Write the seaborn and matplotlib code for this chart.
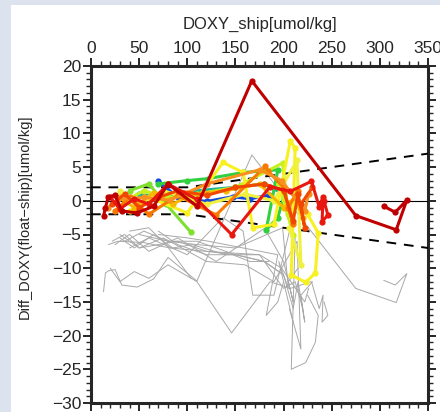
import numpy as np
import pandas as pd
import matplotlib
matplotlib.use("Agg")
import matplotlib.pyplot as plt
from matplotlib.patches import Rectangle
from matplotlib.ticker import MultipleLocator
import seaborn as sns

sns.set_style("ticks")
plt.rcParams['font.family'] = ['Liberation Sans', 'DejaVu Sans']

# ---- data: per float, ship DOXY (x), corrected diff (yc) and raw diff (yg) ----
float_names = ["blue", "teal", "green", "lightgreen", "yellowgreen", "yellow",
               "yellow2", "gold", "orange", "orange2", "redorange", "red", "darkred"]
float_colors = ["#1048e0", "#20b0a0", "#30d040", "#80e030", "#c8f020", "#f8f020",
                "#f0f040", "#f8b800", "#f87800", "#f89020", "#f04800", "#e81810", "#c00000"]

x_blue = [70, 90, 120, 147, 165, 185]
yc_blue = [2.9, 0.5, -0.1, 0.6, 0.3, 0.8]
yg_blue = [-4.5, -6.5, -8.0, -8.0, -9.0, -9.0]

x_teal = [50, 80, 110, 150, 180, 200]
yc_teal = [1.0, 0.5, 1.5, 2.0, 2.5, 1.0]
yg_teal = [-5.0, -6.0, -6.0, -8.0, -9.0, -11.0]

x_green = [70, 100, 122, 158, 194, 182, 194, 200]
yc_green = [2.5, 3.0, 3.3, 4.2, 4.6, -4.3, -2.5, 0.5]
yg_green = [-5.0, -5.5, -6.0, -7.0, -8.0, -17.0, -15.0, -12.0]

x_lightgreen = [40, 60, 78, 104]
yc_lightgreen = [1.5, 2.5, -0.5, -4.7]
yg_lightgreen = [-4.5, -4.0, -6.5, -11.5]

x_yellowgreen = [35, 55, 80, 110, 150, 199, 205, 195, 210]
yc_yellowgreen = [0.0, 1.5, 0.5, 1.0, 2.0, 5.6, -2.0, 2.5, -5.0]
yg_yellowgreen = [-6.0, -4.5, -6.0, -6.5, -7.0, -4.0, -13.0, -9.0, -18.0]

x_yellow = [40, 60, 100, 137, 158, 168, 190, 207, 212, 208, 223, 233, 236, 225]
yc_yellow = [-1.5, 0.5, -1.8, 5.7, 4.2, -4.0, -3.5, 8.9, 7.8, -11.0, -12.1, -10.7, -4.8, -2.0]
yg_yellow = [-7.0, -5.5, -8.0, -2.5, -4.5, -14.0, -14.0, -4.0, -5.5, -25.0, -24.0, -21.0, -17.0, -14.0]

x_yellow2 = [30, 50, 75, 120, 160, 190, 214, 218, 206]
yc_yellow2 = [1.5, -0.5, 1.5, -0.5, 1.0, 0.0, 6.0, -9.5, -4.0]
yg_yellow2 = [-5.0, -7.0, -5.5, -9.0, -9.5, -12.0, -6.0, -22.0, -16.0]

x_gold = [30, 45, 65, 85, 105, 140, 175, 200, 212, 220]
yc_gold = [0.5, -1.0, 1.2, -0.5, 1.0, 1.5, 2.5, -1.0, 0.5, -2.5]
yg_gold = [-5.5, -7.0, -5.0, -7.0, -6.5, -8.0, -8.0, -13.0, -12.0, -16.0]

x_orange = [25, 40, 60, 90, 130, 181, 184, 200, 210, 205, 215]
yc_orange = [-1.5, 0.5, -2.0, 0.8, -2.1, 5.1, 4.4, 2.0, -3.5, -1.0, 1.5]
yg_orange = [-6.5, -5.0, -7.5, -5.5, -9.0, -4.0, -5.0, -9.0, -15.0, -12.0, -10.0]

x_orange2 = [18, 28, 55, 82, 120, 175, 198, 222, 226]
yc_orange2 = [-1.0, 0.2, 0.5, 0.1, 2.5, 4.6, 3.0, -1.5, 1.0]
yg_orange2 = [-6.5, -6.0, -6.2, -7.0, -7.5, -8.0, -10.0, -15.0, -13.0]

x_redorange = [22, 35, 50, 70, 90, 120, 150, 180, 200, 210, 215, 222, 218, 230]
yc_redorange = [-0.5, 1.0, -1.0, 0.5, 1.5, 0.8, 2.0, 2.5, 1.5, -3.0, 1.0, -4.0, -0.5, 2.0]
yg_redorange = [-6.0, -5.0, -7.0, -6.5, -6.0, -7.5, -8.0, -9.0, -11.0, -16.0, -12.0, -18.0, -14.0, -12.0]

x_red = [20, 30, 45, 60, 80, 110, 146, 186, 207, 229, 237, 241, 240, 246, 242]
yc_red = [0.5, -1.2, 0.3, -0.5, 2.5, 0.2, -5.0, 2.1, 1.4, 2.9, -0.9, 0.6, -3.1, -2.1, 0.0]
yg_red = [-10.0, -12.0, -10.5, -11.5, -9.5, -12.0, -19.6, -12.0, -13.0, -12.0, -16.0, -14.0, -18.0, -17.0, -15.0]

x_darkred = [13, 15, 18, 25, 32, 48, 65, 80, 110, 167, 275, 317, 328, 316, 304]
yc_darkred = [-2.3, -1.0, 0.6, 0.8, -1.5, -1.8, -0.8, 2.5, -0.8, 17.8, -2.2, -4.3, 0.1, -1.7, -0.8]
yg_darkred = [-13.5, -10.7, -10.4, -10.2, -12.5, -12.8, -11.6, -8.4, -11.9, 6.8, -13.0, -15.1, -10.8, -12.5, -11.8]

# reference envelope (dashed) lines
env_x = [0, 100, 350]
env_upper = [2, 2, 7]
env_lower = [-2, -2, -7]

x_ticks = [0, 50, 100, 150, 200, 250, 300, 350]
y_ticks = [20, 15, 10, 5, 0, -5, -10, -15, -20, -25, -30]

series = {
    "blue": (x_blue, yc_blue, yg_blue),
    "teal": (x_teal, yc_teal, yg_teal),
    "green": (x_green, yc_green, yg_green),
    "lightgreen": (x_lightgreen, yc_lightgreen, yg_lightgreen),
    "yellowgreen": (x_yellowgreen, yc_yellowgreen, yg_yellowgreen),
    "yellow": (x_yellow, yc_yellow, yg_yellow),
    "yellow2": (x_yellow2, yc_yellow2, yg_yellow2),
    "gold": (x_gold, yc_gold, yg_gold),
    "orange": (x_orange, yc_orange, yg_orange),
    "orange2": (x_orange2, yc_orange2, yg_orange2),
    "redorange": (x_redorange, yc_redorange, yg_redorange),
    "red": (x_red, yc_red, yg_red),
    "darkred": (x_darkred, yc_darkred, yg_darkred),
}

rows = []
for name in float_names:
    xs, ycs, ygs = series[name]
    for i, (a, b, c) in enumerate(zip(xs, ycs, ygs)):
        rows.append(dict(float=name, order=i, x=a, yc=b, yg=c))
df = pd.DataFrame(rows)

# ---- figure ----
fig = plt.figure(figsize=(4.4, 4.12), dpi=100, facecolor="#dde3ee")
fig.patches.append(Rectangle((11 / 440, 0), 1 - 11 / 440, 1 - 5 / 412,
                             transform=fig.transFigure, facecolor="white",
                             edgecolor="none", zorder=-10))
ax = fig.add_axes([91 / 440, 1 - 403 / 412, (428 - 91) / 440, (403 - 66) / 412])
ax.set_zorder(5)
ax.set_facecolor("white")

sns.lineplot(data=df, x="x", y="yg", units="float", estimator=None, sort=False,
             color="#a8a8a8", lw=0.7, ax=ax, legend=False, zorder=2)

ax.axhline(0, color="black", lw=0.8, zorder=3)
ax.plot(env_x, env_upper, color="black", lw=1.4, dashes=(5, 4), zorder=3)
ax.plot(env_x, env_lower, color="black", lw=1.4, dashes=(5, 4), zorder=3)

sns.lineplot(data=df, x="x", y="yc", hue="float", hue_order=float_names,
             palette=dict(zip(float_names, float_colors)), estimator=None,
             sort=False, lw=2.2, marker="o", markersize=4.5, markeredgewidth=0,
             ax=ax, legend=False, zorder=4)

ax.set_xlim(0, 350)
ax.set_ylim(-30, 20)
ax.set_xticks(x_ticks)
ax.set_yticks(y_ticks)
ax.xaxis.set_minor_locator(MultipleLocator(10))
ax.yaxis.set_minor_locator(MultipleLocator(1))
ax.tick_params(axis="x", which="both", top=True, bottom=True, labeltop=True,
               labelbottom=False, direction="out")
ax.tick_params(axis="y", which="both", left=True, right=True, labelleft=True,
               labelright=False, direction="out")
ax.tick_params(which="major", length=6, width=1.4, labelsize=12.5, pad=1)
ax.tick_params(which="minor", length=3.5, width=1.0)
for sp in ax.spines.values():
    sp.set_linewidth(2.2)
    sp.set_visible(True)

ax.xaxis.set_label_position("top")
ax.set_xlabel("DOXY_ship[umol/kg]", fontsize=12, labelpad=9)
ax.set_ylabel("Diff_DOXY(float\u2212ship)[umol/kg]", fontsize=10.5)
ax.yaxis.set_label_coords(-0.175, 0.552)

fig.savefig("out.png", dpi=100, facecolor=fig.get_facecolor())
